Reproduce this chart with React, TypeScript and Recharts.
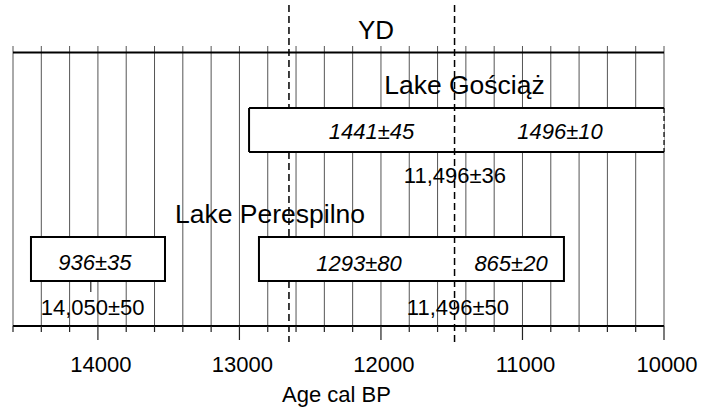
import React from "react";
import {
  ComposedChart,
  XAxis,
  YAxis,
  CartesianGrid,
  ReferenceArea,
  ReferenceLine,
  ReferenceDot,
  Scatter,
} from "recharts";

// age axis (cal BP), 200-yr grid
const gridYears = [
  14600, 14400, 14200, 14000, 13800, 13600, 13400, 13200, 13000, 12800, 12600,
  12400, 12200, 12000, 11800, 11600, 11400, 11200, 11000, 10800, 10600, 10400,
  10200, 10000,
];
const majorYears = [14000, 13000, 12000, 11000, 10000];

// Younger Dryas boundaries
const ydStart = 12650;
const ydEnd = 11480;
const ydSpan = { top: 32.1, bottom: -1.6 };
const ydLabel = { x: 12035, y: 29.6, text: "YD" };

// varve-counted floating chronologies
const goscBox = { from: 12932, to: 10000, top: 21.8, bottom: 17.4 };
const perespBoxes = [
  { from: 14473, to: 13526, top: 8.9, bottom: 4.5 },
  { from: 12862, to: 10707, top: 8.9, bottom: 4.5 },
];
const anchorMark = { year: 14050, top: 4.5, bottom: 3.4 };
const topLine = 27.35;

const labels = [
  { x: 11410, y: 24.2, text: "Lake Gościąż", kind: "lake" },
  { x: 12067, y: 19.5, text: "1441±45", kind: "varve" },
  { x: 10735, y: 19.5, text: "1496±10", kind: "varve" },
  { x: 11477, y: 15.1, text: "11,496±36", kind: "age" },
  { x: 12784, y: 11.3, text: "Lake Perespilno", kind: "lake" },
  { x: 14021, y: 6.4, text: "936±35", kind: "varve" },
  { x: 12155, y: 6.3, text: "1293±80", kind: "varve" },
  { x: 11081, y: 6.3, text: "865±20", kind: "varve" },
  { x: 14037, y: 1.9, text: "14,050±50", kind: "age" },
  { x: 11456, y: 1.9, text: "11,496±50", kind: "age" },
];

const FONT = "'Liberation Sans', Arial, sans-serif";

function LabelShape(props: any) {
  const { cx, cy, payload } = props;
  const lake = payload.kind === "lake";
  return (
    <text
      x={cx}
      y={cy}
      dy="0.36em"
      textAnchor="middle"
      fontFamily={FONT}
      fontSize={lake ? 26.5 : 22}
      fontStyle={payload.kind === "varve" ? "italic" : "normal"}
      fill="#000"
    >
      {payload.text}
    </text>
  );
}

function AgeTick(props: any) {
  const { x, y, payload } = props;
  const major = majorYears.includes(payload.value);
  return (
    <g>
      <line x1={x} x2={x} y1={y} y2={y + (major ? 14 : 6)} stroke="#222" strokeWidth={1.2} />
      {major && (
        <text x={x + 3} y={y + 46} textAnchor="middle" fontFamily={FONT} fontSize={22} fill="#000">
          {payload.value}
        </text>
      )}
    </g>
  );
}

function AxisTitle(props: any) {
  const vb = props.viewBox || {};
  return (
    <text
      x={vb.x + vb.width / 2 - 2}
      y={vb.y + vb.height - 5}
      textAnchor="middle"
      fontFamily={FONT}
      fontSize={22}
      fill="#000"
    >
      Age cal BP
    </text>
  );
}

// the YD onset line is hidden where the chronology boxes cross it
const ydStartPieces = [
  [ydSpan.top, goscBox.top],
  [goscBox.bottom, perespBoxes[1].top],
  [perespBoxes[1].bottom, ydSpan.bottom],
];

export default function App() {
  const dash = "7 4";
  return (
    <div style={{ position: "absolute", left: 0, top: 0, width: 703, height: 407, background: "#fff" }}>
      <ComposedChart
        width={703}
        height={407}
        data={labels}
        margin={{ top: 46, right: 39, bottom: 0, left: 13 }}
        style={{ fontFamily: FONT }}
      >
        <CartesianGrid
          horizontal={false}
          verticalValues={gridYears}
          stroke="#555"
          strokeWidth={1}
        />
        <XAxis
          dataKey="x"
          type="number"
          domain={[10000, 14600]}
          reversed
          ticks={gridYears}
          interval={0}
          tickSize={0}
          tickMargin={0}
          tickLine={false}
          tick={<AgeTick />}
          height={81}
          axisLine={{ stroke: "#000", strokeWidth: 2 }}
          label={<AxisTitle />}
        />
        <YAxis dataKey="y" type="number" domain={[0, 28]} hide />

        <ReferenceLine y={topLine} stroke="#000" strokeWidth={2} />

        <ReferenceArea
          x1={goscBox.from}
          x2={goscBox.to}
          y1={goscBox.bottom}
          y2={goscBox.top}
          fill="#fff"
          fillOpacity={1}
          stroke="none"
        />
        {perespBoxes.map((b, i) => (
          <ReferenceArea
            key={i}
            x1={b.from}
            x2={b.to}
            y1={b.bottom}
            y2={b.top}
            fill="#fff"
            fillOpacity={1}
            stroke="#000"
            strokeWidth={2}
          />
        ))}
        <ReferenceLine
          segment={[{ x: goscBox.from, y: goscBox.top }, { x: goscBox.to, y: goscBox.top }]}
          stroke="#000"
          strokeWidth={2}
        />
        <ReferenceLine
          segment={[{ x: goscBox.from, y: goscBox.bottom }, { x: goscBox.to, y: goscBox.bottom }]}
          stroke="#000"
          strokeWidth={2}
        />
        <ReferenceLine
          segment={[{ x: goscBox.from, y: goscBox.top }, { x: goscBox.from, y: goscBox.bottom }]}
          stroke="#000"
          strokeWidth={2}
        />
        <ReferenceLine
          segment={[{ x: goscBox.to, y: goscBox.top }, { x: goscBox.to, y: goscBox.bottom }]}
          stroke="#000"
          strokeWidth={1.2}
          strokeDasharray="5 3"
        />
        <ReferenceLine
          segment={[{ x: anchorMark.year, y: anchorMark.top }, { x: anchorMark.year, y: anchorMark.bottom }]}
          stroke="#000"
          strokeWidth={1}
        />

        {ydStartPieces.map(([a, b], i) => (
          <ReferenceLine
            key={"yds" + i}
            segment={[{ x: ydStart, y: a }, { x: ydStart, y: b }]}
            stroke="#000"
            strokeWidth={1.5}
            strokeDasharray={dash}
            ifOverflow="visible"
          />
        ))}
        <ReferenceLine
          segment={[{ x: ydEnd, y: ydSpan.top }, { x: ydEnd, y: ydSpan.bottom }]}
          stroke="#000"
          strokeWidth={1.5}
          strokeDasharray={dash}
          ifOverflow="visible"
        />
        <ReferenceDot
          x={ydLabel.x}
          y={ydLabel.y}
          r={0}
          fill="none"
          stroke="none"
          ifOverflow="visible"
          label={{ value: ydLabel.text, position: "center", fontSize: 26, fill: "#000", fontFamily: FONT }}
        />

        <Scatter dataKey="y" shape={<LabelShape />} isAnimationActive={false} />
      </ComposedChart>
    </div>
  );
}
